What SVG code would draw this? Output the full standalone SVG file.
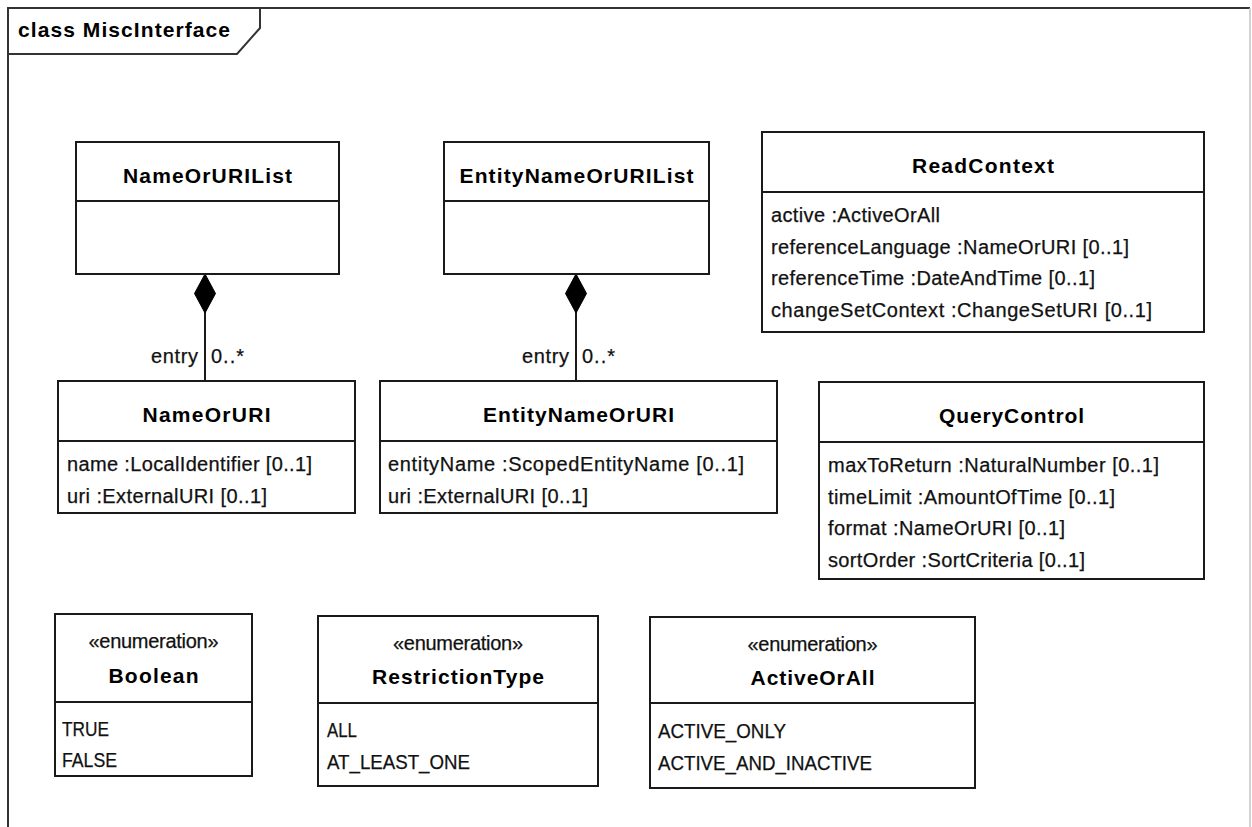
<svg xmlns="http://www.w3.org/2000/svg" width="1252" height="827" viewBox="0 0 1252 827">
  <style>
    .box { fill: #ffffff; stroke: #1a1a1a; stroke-width: 2; }
    .sep { stroke: #1a1a1a; stroke-width: 2; }
    .t { font-family: "Liberation Sans", Arial, sans-serif; font-size: 20px; fill: #111; stroke: #111; stroke-width: 0.25; }
    .b { font-family: "Liberation Sans", Arial, sans-serif; font-size: 21px; font-weight: bold; fill: #000; }
    .c { text-anchor: middle; }
    .e { text-anchor: end; }
    .link { stroke: #1a1a1a; stroke-width: 2; fill: none; }
    .diamond { fill: #000; stroke: #000; stroke-width: 1; }
  </style>

  <rect width="1252" height="827" fill="#ffffff"/>

  <!-- diagram frame with name tab -->
  <g id="frame">
    <path d="M8,840 L8,8 L1250,8" fill="none" stroke="#333" stroke-width="2"/>
    <path d="M1250,8 L1250,840" fill="none" stroke="#c4c4c4" stroke-width="1.5"/>
    <path d="M8,54 L237,54 L260,28 L260,8" fill="none" stroke="#333" stroke-width="2"/>
    <text class="b" x="18" y="37" textLength="212">class MiscInterface</text>
  </g>

  <!-- composition connectors -->
  <g id="connectors">
    <line class="link" x1="205" y1="274" x2="205" y2="381"/>
    <polygon class="diamond" points="205,274 215.5,293.5 205,313 194.5,293.5"/>
    <text class="t e" x="198" y="363" textLength="47">entry</text>
    <text class="t" x="211" y="363" textLength="33">0..*</text>

    <line class="link" x1="576" y1="274" x2="576" y2="381"/>
    <polygon class="diamond" points="576,274 586.5,293.5 576,313 565.5,293.5"/>
    <text class="t e" x="569" y="363" textLength="47">entry</text>
    <text class="t" x="582" y="363" textLength="33">0..*</text>
  </g>

  <g id="NameOrURIList">
    <rect class="box" x="76" y="142" width="263" height="132"/>
    <line class="sep" x1="76" y1="201" x2="339" y2="201"/>
    <text class="b c" x="207.5" y="183" textLength="169">NameOrURIList</text>
  </g>

  <g id="EntityNameOrURIList">
    <rect class="box" x="444" y="142" width="265" height="132"/>
    <line class="sep" x1="444" y1="201" x2="709" y2="201"/>
    <text class="b c" x="576.5" y="183" textLength="234">EntityNameOrURIList</text>
  </g>

  <g id="ReadContext">
    <rect class="box" x="762" y="132" width="442" height="200"/>
    <line class="sep" x1="762" y1="192" x2="1204" y2="192"/>
    <text class="b c" x="983" y="173" textLength="142">ReadContext</text>
    <text class="t" x="771" y="222" textLength="169">active :ActiveOrAll</text>
    <text class="t" x="771" y="253.5" textLength="358">referenceLanguage :NameOrURI [0..1]</text>
    <text class="t" x="771" y="285" textLength="324">referenceTime :DateAndTime [0..1]</text>
    <text class="t" x="771" y="316.5" textLength="381">changeSetContext :ChangeSetURI [0..1]</text>
  </g>

  <g id="NameOrURI">
    <rect class="box" x="58" y="381" width="297" height="132"/>
    <line class="sep" x1="58" y1="441" x2="355" y2="441"/>
    <text class="b c" x="206.5" y="422" textLength="128">NameOrURI</text>
    <text class="t" x="67" y="471" textLength="245">name :LocalIdentifier [0..1]</text>
    <text class="t" x="67" y="502.5" textLength="200">uri :ExternalURI [0..1]</text>
  </g>

  <g id="EntityNameOrURI">
    <rect class="box" x="380" y="381" width="397" height="132"/>
    <line class="sep" x1="380" y1="441" x2="777" y2="441"/>
    <text class="b c" x="578.5" y="422" textLength="191">EntityNameOrURI</text>
    <text class="t" x="388" y="471" textLength="356">entityName :ScopedEntityName [0..1]</text>
    <text class="t" x="388" y="502.5" textLength="200">uri :ExternalURI [0..1]</text>
  </g>

  <g id="QueryControl">
    <rect class="box" x="819" y="382" width="385" height="197"/>
    <line class="sep" x1="819" y1="442" x2="1204" y2="442"/>
    <text class="b c" x="1011.5" y="423" textLength="145">QueryControl</text>
    <text class="t" x="828" y="472" textLength="331">maxToReturn :NaturalNumber [0..1]</text>
    <text class="t" x="828" y="503.5" textLength="287">timeLimit :AmountOfTime [0..1]</text>
    <text class="t" x="828" y="535" textLength="237">format :NameOrURI [0..1]</text>
    <text class="t" x="828" y="566.5" textLength="257">sortOrder :SortCriteria [0..1]</text>
  </g>

  <g id="Boolean">
    <rect class="box" x="55" y="614" width="197" height="162"/>
    <line class="sep" x1="55" y1="702" x2="252" y2="702"/>
    <text class="t c" x="153.5" y="648" textLength="130">«enumeration»</text>
    <text class="b c" x="153.5" y="683" textLength="90">Boolean</text>
    <text class="t" x="62" y="736" textLength="47" lengthAdjust="spacingAndGlyphs">TRUE</text>
    <text class="t" x="62" y="767" textLength="55" lengthAdjust="spacingAndGlyphs">FALSE</text>
  </g>

  <g id="RestrictionType">
    <rect class="box" x="318" y="616" width="280" height="170"/>
    <line class="sep" x1="318" y1="703" x2="598" y2="703"/>
    <text class="t c" x="458" y="650" textLength="130">«enumeration»</text>
    <text class="b c" x="458" y="684" textLength="172">RestrictionType</text>
    <text class="t" x="327" y="737" textLength="30" lengthAdjust="spacingAndGlyphs">ALL</text>
    <text class="t" x="327" y="769" textLength="143" lengthAdjust="spacingAndGlyphs">AT_LEAST_ONE</text>
  </g>

  <g id="ActiveOrAll">
    <rect class="box" x="650" y="617" width="325" height="171"/>
    <line class="sep" x1="650" y1="703" x2="975" y2="703"/>
    <text class="t c" x="812.5" y="651" textLength="130">«enumeration»</text>
    <text class="b c" x="812.5" y="685" textLength="124">ActiveOrAll</text>
    <text class="t" x="658" y="738" textLength="128" lengthAdjust="spacingAndGlyphs">ACTIVE_ONLY</text>
    <text class="t" x="658" y="770" textLength="214" lengthAdjust="spacingAndGlyphs">ACTIVE_AND_INACTIVE</text>
  </g>
</svg>
